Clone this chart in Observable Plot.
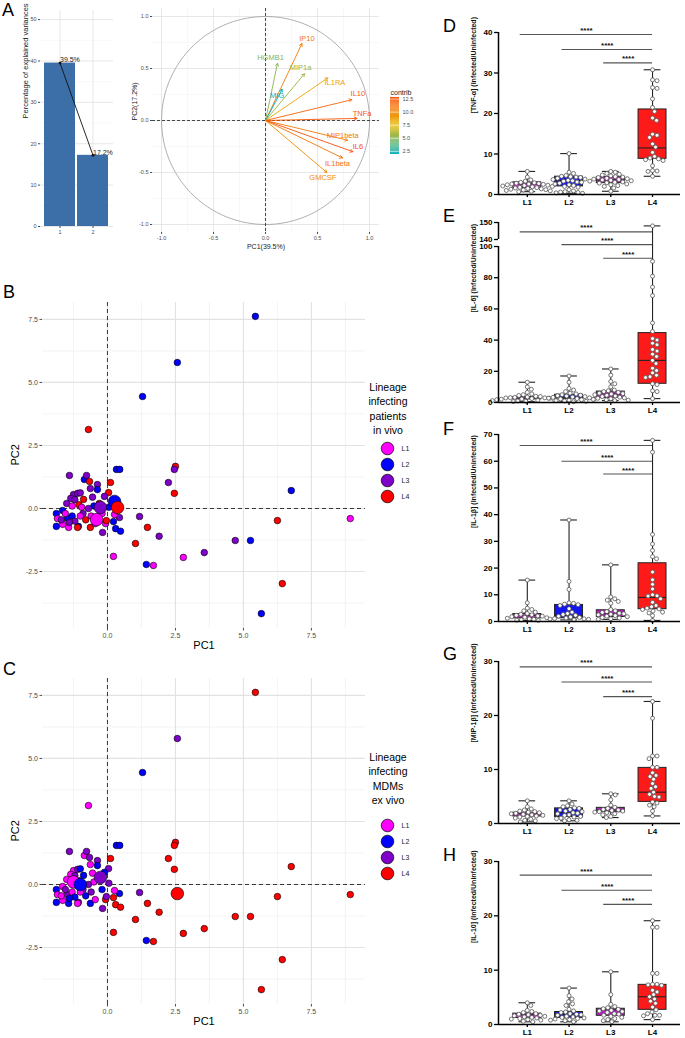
<!DOCTYPE html>
<html><head><meta charset="utf-8">
<script src="https://cdn.jsdelivr.net/npm/d3@7"></script>
<script src="https://cdn.jsdelivr.net/npm/@observablehq/plot@0.6"></script>
<style>
body{margin:0;background:#fff;}
#fig{position:relative;width:685px;height:1038px;overflow:hidden;font-family:"Liberation Sans",Arial,sans-serif;background:#fff;}
</style></head><body><div id="fig"></div>
<script>
// ---------------- DATA ----------------
// Panel A (scree)
const pcs = ["1","2"];
const pcVar = [39.5, 17.2];
// Panel A (variables)
const varNames = ["IP10","HGMB1","MIP1a","MIG","IL1RA","IL10","TNFa","MIP1beta","IL6","IL1beta","GMCSF"];
const varPC1 = [0.35,0.115,0.375,0.16,0.60,0.83,0.88,0.79,0.84,0.74,0.59];
const varPC2 = [0.74,0.55,0.45,0.30,0.41,0.20,0.02,-0.19,-0.30,-0.36,-0.50];
const varContrib = [10.7,5.1,5.5,1.9,8.5,11.7,12.4,10.6,12.8,10.9,9.6];
const contribTicks = [2.5,5,7.5,10,12.5];
const circTicks = [-1,-0.5,0,0.5,1];

// Panels B / C (individuals)
const lineages = ["L1","L2","L3","L4"];
const indPC1 = [5.44,2.57,1.29,-0.70,0.33,0.45,2.50,2.46,2.24,2.46,6.76,6.25,8.93,4.70,5.26,1.18,1.47,1.90,0.30,0.48,-0.18,0.22,1.03,1.43,1.69,2.79,3.56,6.43,5.66,
  -1.40,-0.85,-0.77,-0.66,-0.37,-0.37,-0.63,0.11,0.04,-0.11,-1.25,-1.10,-1.00,-1.35,-1.20,-0.88,-1.50,-1.30,-1.05,-0.95,-1.88,-1.65,-1.88,-1.84,-1.47,-1.65,-1.43,-1.07,-1.10,-0.63,-0.07,-0.04,0.44,0.22,0.26,-1.55,-1.30,-1.20,-0.90,-0.80,-0.60,-0.50,-0.30,-0.20,-1.00,-0.70,-1.40,-0.45,0.05,-1.70,-0.55];
const indPC2 = [7.62,5.79,4.44,3.13,1.55,1.55,1.67,1.55,1.03,0.60,0.71,-0.48,-0.40,-1.27,-1.27,-0.32,-0.75,-1.10,-0.80,-0.90,-0.95,-1.90,-1.39,-2.22,-2.26,-1.94,-1.75,-2.98,-4.17,
  1.31,1.15,1.31,1.07,0.95,0.75,0.79,1.03,0.63,0.48,0.55,0.60,0.62,0.40,0.35,0.36,0.20,0.10,0.15,0.05,-0.20,-0.08,-0.71,-0.40,-0.40,-0.63,-0.75,-0.71,-0.75,-0.75,-0.60,-0.48,-0.36,-0.52,-0.24,-0.20,-0.30,-0.50,-0.20,-0.45,-0.30,0.10,0.20,-0.20,-0.30,0.00,-0.55,-0.60,0.05,-0.45,0.45];
const linVivo = ["L2","L2","L2","L4","L2","L2","L4","L3","L3","L4","L2","L4","L1","L3","L2","L3","L4","L3","L2","L2","L3","L1","L4","L2","L1","L1","L3","L4","L2",
  "L3","L2","L3","L4","L3","L2","L3","L4","L4","L3","L3","L3","L3","L3","L3","L4","L3","L1","L4","L1","L2","L2","L2","L1","L2","L1","L1","L2","L4","L4","L1","L4","L3","L2","L1","L1","L2","L3","L3","L4","L1","L2","L4","L1","L1","L3","L3","L1","L2","L3","L3"];
const linVitro = ["L4","L3","L2","L1","L2","L2","L4","L4","L4","L4","L4","L4","L4","L4","L4","L3","L4","L4","L4","L4","L3","L4","L4","L2","L4","L4","L4","L4","L4",
  "L3","L1","L3","L3","L3","L2","L1","L4","L3","L2","L1","L3","L2","L1","L3","L2","L1","L2","L3","L1","L2","L1","L2","L1","L3","L1","L2","L3","L1","L2","L4","L3","L2","L4","L1","L3","L1","L2","L3","L2","L3","L1","L3","L2","L1","L3","L2","L1","L3","L1","L1"];
const centVivo = [[-0.40,-0.44],[0.26,0.28],[-0.26,0.04],[0.37,0.04]];
const centVitro = [[-1.25,0.10],[-1.00,0.00],[-0.26,0.28],[2.57,-0.36]];
const scatXTicks = [0,2.5,5,7.5];
const scatYTicks = [-2.5,0,2.5,5,7.5];

// Panels D-H (box plots): rows = L1..L4, [min, q1, median, q3, max]
const sigPairs = [[1,4],[2,4],[3,4]];
const sigText = "****";

const tnfL1 = [5.7,4.3,3.6,3.3,3.0,2.9,2.8,2.7,2.6,2.6,2.5,2.4,2.3,2.2,2.1,2.0,1.9,1.8,1.7,1.6,1.5,1.4,1.3,1.2,1.1,1.0,0.9,0.8,0.7];
const tnfL2 = [10.1,5.5,5.2,4.7,4.5,4.4,4.3,4.2,4.0,3.8,3.7,3.5,3.4,3.3,3.1,3.0,2.8,2.6,2.4,2.2,2.0,1.8,1.2,0.9,0.7,0.6,0.5,0.4,0.3];
const tnfL3 = [5.7,5.5,5.2,5.0,4.8,4.6,4.4,4.3,4.2,4.0,3.9,3.8,3.7,3.6,3.5,3.4,3.3,3.1,3.0,2.9,2.8,2.6,2.4,2.2,2.0,1.6,0.8];
const tnfL4 = [30.8,28.3,28.1,26.4,26.2,23.6,21.5,20.5,18.9,18.3,14.9,14.6,14.1,12.5,11.7,10.4,9.4,9.0,8.8,8.6,8.4,7.1,5.9,5.8,5.7,4.5];
const tnfBox = [[0.7,1.6,2.6,3.0,5.7],[0.3,2.0,3.4,4.4,10.1],[0.8,2.8,3.6,4.3,5.7],[4.5,8.8,11.5,21.0,30.8]];
const tnfSig = [39.5,35.8,32.5];
const tnfTicks = [0,10,20,30,40];

const il6L1 = [13,10,8.5,6.5,5.5,5,4.5,4,3.8,3.5,3.3,3.1,3,2.9,2.7,2.5,2.3,2.1,2,1.8,1.6,1.4,1.2,1,0.8,0.6];
const il6L2 = [17,13,9,8,7,6,5.5,5,4.7,4.4,4.1,3.8,3.5,3.3,3,2.8,2.5,2.3,2,1.8,1.5,1.2,1,0.8,0.5];
const il6L3 = [21.5,17.5,13.5,12,10,8,7.5,7,6.5,6,5.7,5.4,5,4.6,4.2,3.8,3.4,3,2.7,2.4,2,1.7,1.5,1.2];
const il6L4 = [148,90.5,81,74,68.5,51,45.5,41,40,38,37,34,33,31,29.5,27,25,22,20.5,19,17.5,16.5,16,12,11.5,7.5,7,2.5];
const il6Box = [[0.5,2,3,3.5,13],[0.5,2.3,3.3,5,17],[1.2,3,5.5,7,21.5],[2.5,12,27,44.5,148]];
const il6Sig = [144.5,111,92.5];
const il6Ticks = [0,20,40,60,80,100,140,150];

const il1bL1 = [15.5,7,5,4.5,4,3.5,3,2.7,2.5,2.3,2.1,2,1.8,1.6,1.4,1.2,1,0.8,0.6,0.5,0.4];
const il1bL2 = [38,15,12,7,6.8,6.5,6.3,6,4.8,3.5,3,2.6,2.3,2,1.7,1.5,1.3,1.1,1,0.9,0.8,0.6];
const il1bL3 = [21.2,9.2,8.5,8,7.5,6.8,4.5,4,3.7,3.4,3.1,2.9,2.7,2.5,2.2,2,1.8,1.5,1.3,1,0.8];
const il1bL4 = [67.8,63.4,32.6,29,26.6,24.3,23.5,18.5,15.6,13.9,12.2,10,9.6,9.5,8.5,7.2,6,5.5,5,4.7,4.5,3.9,3.5,3.2,2.2,0.4];
const il1bBox = [[0.4,1.2,2.2,2.8,15.5],[0.6,1.2,2.2,6.2,38],[0.8,1.7,2.9,4.2,21.2],[0.4,4.6,9,21.8,67.8]];
const il1bSig = [65.9,60,55.2];
const il1bTicks = [0,10,20,30,40,50,60,70];

const mipL1 = [4.2,3.1,2.7,2.5,2.3,2.2,2.1,2.0,1.9,1.8,1.7,1.6,1.5,1.4,1.3,1.2,1.0,0.8,0.6,0.5,0.3];
const mipL2 = [4.2,3.6,3.3,3.1,2.9,2.8,2.6,2.5,2.3,2.2,2.0,1.9,1.8,1.6,1.5,1.3,1.2,1.0,0.9,0.7,0.6,0.5];
const mipL3 = [5.5,5.3,4.4,3.4,3.0,2.8,2.6,2.5,2.4,2.3,2.2,2.1,2.0,1.8,1.6,1.3,1.1];
const mipL4 = [22.6,19.5,12.5,12.5,12,10.4,10.4,9.4,8.9,8.7,8.2,7.4,6.8,6.5,5.8,5.4,5.0,4.9,4.0,3.8,3.4,3.1,2.3,1.4];
const mipBox = [[0.3,1.3,1.8,2.0,4.2],[0.5,1.2,2.0,2.8,4.2],[1.1,2.1,2.5,2.9,5.5],[1.4,4.0,5.8,10.3,22.6]];
const mipSig = [29,26.2,23.5];
const mipTicks = [0,10,20,30];

const il10L1 = [4.0,3.5,2.6,2.4,2.2,2.0,1.9,1.8,1.7,1.6,1.5,1.4,1.3,1.2,1.1,1.0,0.9,0.8,0.6,0.5];
const il10L2 = [6.7,5.3,4.7,4.2,3.8,3.5,2.8,2.5,2.3,2.2,2.0,1.9,1.8,1.7,1.5,1.4,1.3,1.2,1.1,1.0,0.9,0.8,0.7,0.5];
const il10L3 = [9.7,5.5,3.7,3.3,3.1,2.9,2.8,2.6,2.5,2.4,2.2,2.0,1.9,1.7,1.5,1.3,1.1,0.9,0.7,0.5];
const il10L4 = [19.1,17.9,17.9,9.4,9.4,7.4,7.4,7.3,7.2,6.3,6.0,5.5,5.1,4.7,4.3,3.9,3.2,2.7,2.3,2.0,1.7,1.7,1.6,0.9];
const il10Box = [[0.5,1.2,1.8,2.0,4.0],[0.5,1.2,1.8,2.3,6.7],[0.5,1.6,2.7,2.9,9.7],[0.9,2.7,5.1,7.3,19.1]];
const il10Sig = [27.5,24.7,22.1];
const il10Ticks = [0,10,20,30];

// ---------------- STYLE / LAYOUT ----------------
const linColors = ["#FF00FF","#0000FF","#7F00C8","#FF0000"];
const boxColors = ["#E030E0","#1515F0","#C01CCB","#FF1A1A"];
const fig = document.getElementById("fig");
const baseStyle = {fontFamily:'"Liberation Sans", Arial, sans-serif', background:"transparent", overflow:"visible"};
function place(el, left, top){ el.style.position="absolute"; el.style.left=left+"px"; el.style.top=top+"px"; fig.appendChild(el); return el; }
function html(text, left, top, css){ const d=document.createElement("div"); d.textContent=text; d.style.cssText=`position:absolute;left:${left}px;top:${top}px;${css||""}`; fig.appendChild(d); return d; }
const fmt1 = d => d.toFixed(1);

// panel letters
[["A",2,1],["B",3,283],["C",3,660],["D",443,17],["E",443,207],["F",443,420],["G",443,645],["H",443,846]]
  .forEach(([t,x,y]) => html(t, x, y, "font-size:18px;line-height:18px;color:#000;"));

// ---------- Panel A: scree ----------
const barData = pcs.map((p,i)=>({pc:p, v:pcVar[i]}));
place(Plot.plot({
  width:120, height:245, marginLeft:40, marginRight:7, marginTop:10, marginBottom:19,
  style:{...baseStyle, fontSize:"5.5px", color:"#4d4d4d"},
  x:{type:"band", domain:pcs, paddingInner:0.05, paddingOuter:0.1},
  y:{domain:[0,52.2]},
  marks:[
    Plot.ruleY(d3.range(5,50,10), {stroke:"#f0f0f0", strokeWidth:0.5}),
    Plot.ruleY(d3.range(0,51,10), {stroke:"#e4e4e4", strokeWidth:0.9}),
    Plot.ruleX(pcs, {x:d=>d, stroke:"#e4e4e4", strokeWidth:0.9}),
    Plot.barY(barData, {x:"pc", y:"v", fill:"#3c6ea8"}),
    Plot.line(barData, {x:"pc", y:"v", stroke:"#111", strokeWidth:0.9}),
    Plot.dot(barData, {x:"pc", y:"v", r:1.4, fill:"#111"}),
    Plot.text(barData, {x:"pc", y:"v", text:d=>d.v.toFixed(1)+"%", textAnchor:"start", dy:-3, fontSize:7, fill:"#222"}),
    Plot.axisY({ticks:d3.range(0,51,10), tickSize:2, tickPadding:2, label:null}),
    Plot.axisX({tickSize:2, tickPadding:2, label:null}),
    Plot.text(["Percentage of explained variances"], {text:d=>d, frameAnchor:"left", rotate:-90, dx:-15, fontSize:7.5, fill:"#222"})
  ]
}), 0, 0);

// ---------- Panel A: correlation circle ----------
const vars = varNames.map((n,i)=>({name:n, pc1:varPC1[i], pc2:varPC2[i], contrib:varContrib[i]}));
const cExt = d3.extent(varContrib);
const contribScale = {type:"linear", domain:[cExt[0], (cExt[0]+cExt[1])/2, cExt[1]], range:["#00AFBB","#E7B800","#FC4E07"]};
const labelNudge = {IP10:[5,-5], HGMB1:[-7,-6], MIP1a:[-4,-6], MIG:[-5,6], IL1RA:[7,5], IL10:[6,-6], TNFa:[5,-5], MIP1beta:[-5,-5], IL6:[5,-5], IL1beta:[-5,6], GMCSF:[-4,5]};
const cpx = 104;
const circle = d3.range(0,361,2).map(a=>({x:Math.cos(a*Math.PI/180), y:Math.sin(a*Math.PI/180)}));
place(Plot.plot({
  width:255, height:250, marginLeft:22, marginRight:6, marginTop:8, marginBottom:18,
  style:{...baseStyle, fontSize:"5.5px", color:"#4d4d4d"},
  x:{domain:[-1.087,1.096]}, y:{domain:[-1.077,1.077]},
  color:contribScale,
  marks:[
    Plot.ruleX([-0.75,-0.25,0.25,0.75], {stroke:"#f0f0f0", strokeWidth:0.5}),
    Plot.ruleY([-0.75,-0.25,0.25,0.75], {stroke:"#f0f0f0", strokeWidth:0.5}),
    Plot.ruleX(circTicks, {stroke:"#e4e4e4", strokeWidth:0.9}),
    Plot.ruleY(circTicks, {stroke:"#e4e4e4", strokeWidth:0.9}),
    Plot.line(circle, {x:"x", y:"y", stroke:"#9a9a9a", strokeWidth:0.8}),
    Plot.ruleX([0], {stroke:"#333", strokeDasharray:"3,2", strokeWidth:0.9}),
    Plot.ruleY([0], {stroke:"#333", strokeDasharray:"3,2", strokeWidth:0.9}),
    Plot.arrow(vars, {x1:()=>0, y1:()=>0, x2:"pc1", y2:"pc2", stroke:"contrib", strokeWidth:0.9, headLength:5}),
    Plot.text(vars, {x:d=>d.pc1+labelNudge[d.name][0]/cpx, y:d=>d.pc2-labelNudge[d.name][1]/cpx, text:"name", fill:"contrib", fontSize:7.5}),
    Plot.axisX({ticks:circTicks, tickFormat:fmt1, tickSize:2, tickPadding:1.5, label:null}),
    Plot.axisY({ticks:circTicks, tickFormat:fmt1, tickSize:2, tickPadding:2, label:null}),
    Plot.text(["PC1(39.5%)"], {text:d=>d, frameAnchor:"bottom", dy:16, fontSize:7, fill:"#222"}),
    Plot.text(["PC2(17.2%)"], {text:d=>d, frameAnchor:"left", rotate:-90, dx:-18, fontSize:7, fill:"#222"})
  ]
}), 130, 0);

// contrib colour bar
const nSteps = 60;
const stepV = (cExt[1]-cExt[0])/nSteps;
const ramp = d3.range(nSteps).map(i=>({y1:cExt[0]+i*stepV, y2:cExt[0]+(i+1)*stepV, v:cExt[0]+(i+0.5)*stepV}));
place(Plot.plot({
  width:45, height:75, marginLeft:7, marginRight:29, marginTop:13, marginBottom:5,
  style:{...baseStyle, fontSize:"5.5px", color:"#4d4d4d"},
  y:{domain:cExt}, color:contribScale,
  marks:[
    Plot.rect(ramp, {y1:"y1", y2:"y2", fill:"v"}),
    Plot.tickY(contribTicks, {y:d=>d, stroke:"white", strokeWidth:0.6}),
    Plot.axisY({anchor:"right", ticks:contribTicks, tickFormat:fmt1, tickSize:0, tickPadding:3, label:null}),
    Plot.text(["contrib"], {text:d=>d, frameAnchor:"top-left", dy:-7, textAnchor:"start", fontSize:7, fill:"#222"})
  ]
}), 383, 84);

// ---------- Panels B / C ----------
function scatter(lin, cent, top){
  const inds = indPC1.map((x,i)=>({x, y:indPC2[i], lin:lin[i]}));
  const cents = lineages.map((l,i)=>({x:cent[i][0], y:cent[i][1], lin:l}));
  place(Plot.plot({
    width:370, height:365, marginLeft:42, marginRight:5, marginTop:12, marginBottom:27,
    style:{...baseStyle, fontSize:"7px", color:"#4d4d4d"},
    x:{domain:[-2.39,9.49]}, y:{domain:[-4.76,8.17]},
    color:{domain:lineages, range:linColors},
    marks:[
      Plot.ruleX(d3.range(-1.25,9.5,2.5), {stroke:"#ececec", strokeWidth:0.6}),
      Plot.ruleY(d3.range(-3.75,8,2.5), {stroke:"#ececec", strokeWidth:0.6}),
      Plot.ruleX(scatXTicks, {stroke:"#e2e2e2", strokeWidth:1.1}),
      Plot.ruleY(scatYTicks, {stroke:"#e2e2e2", strokeWidth:1.1}),
      Plot.ruleX([0], {stroke:"#222", strokeDasharray:"4,3", strokeWidth:0.9}),
      Plot.ruleY([0], {stroke:"#222", strokeDasharray:"4,3", strokeWidth:0.9}),
      Plot.dot(inds, {x:"x", y:"y", fill:"lin", stroke:"#000", strokeWidth:0.6, r:3.3}),
      Plot.dot(cents, {x:"x", y:"y", fill:"lin", stroke:"#000", strokeWidth:0.6, r:6.3}),
      Plot.axisX({ticks:scatXTicks, tickFormat:fmt1, tickSize:2.5, tickPadding:2, label:null}),
      Plot.axisY({ticks:scatYTicks, tickFormat:fmt1, tickSize:2.5, tickPadding:2, label:null}),
      Plot.text(["PC1"], {text:d=>d, frameAnchor:"bottom", dy:20, fontSize:11, fill:"#000"}),
      Plot.text(["PC2"], {text:d=>d, frameAnchor:"left", rotate:-90, dx:-27, fontSize:11, fill:"#000"})
    ]
  }), 0, top);
}
function lineageLegend(titleLines, titleTop, top){
  const t = html("", 348, titleTop, "width:80px;text-align:center;font-size:10.5px;line-height:14.3px;color:#000;");
  t.innerHTML = titleLines.join("<br>");
  place(Plot.plot({
    width:50, height:64, marginLeft:12, marginRight:0, marginTop:8, marginBottom:8,
    style:{...baseStyle, fontSize:"7px"},
    y:{type:"point", domain:lineages, padding:0, axis:null},
    color:{domain:lineages, range:linColors},
    marks:[
      Plot.dot(lineages, {y:d=>d, fill:d=>d, r:6.3, stroke:"#000", strokeWidth:0.7, frameAnchor:"left"}),
      Plot.text(lineages, {y:d=>d, text:d=>d, frameAnchor:"left", dx:14, textAnchor:"start", fontSize:7, fill:"#222"})
    ]
  }), 375, top);
}
scatter(linVivo, centVivo, 290);
lineageLegend(["Lineage","infecting","patients","in vivo"], 380, 440);
scatter(linVitro, centVitro, 666);
lineageLegend(["Lineage","infecting","MDMs","ex vivo"], 750, 817);

// ---------- Panels D-H ----------
function swarm(py, r){
  const n = py.length, d = 2*r + 0.4;
  const order = d3.range(n).sort((a,b)=>py[a]-py[b]);
  const placed = [], off = new Array(n);
  for (const i of order){
    let best = 0;
    for (let k=0;k<400;k++){
      const c = k===0 ? 0 : (k%2 ? 1 : -1)*Math.ceil(k/2)*0.5;
      if (placed.every(p => (p.x-c)**2 + (p.y-py[i])**2 >= d*d)) { best = c; break; }
    }
    off[i] = best; placed.push({x:best, y:py[i]});
  }
  return off;
}
function boxPanel({title, pts, box, sig, ticks, segs, plotTop, plotH, tf}){
  const T = tf || (v=>v);
  const W=225, ML=38, MR=5, MT=16, MB=16;
  const xDom=[0.31,4.67];
  const pxX=(W-ML-MR)/(xDom[1]-xDom[0]);
  const yTop = T(ticks[ticks.length-1]);
  const pxY = plotH / yTop;
  const dots=[];
  pts.forEach((arr,g)=>{
    const off = swarm(arr.map(v=>-T(v)*pxY), 2);
    arr.forEach((v,i)=>dots.push({x:g+1+off[i]/pxX, y:T(v)}));
  });
  const rows = box.map((b,g)=>({x:g+1, min:T(b[0]), q1:T(b[1]), med:T(b[2]), q3:T(b[3]), max:T(b[4]), lin:lineages[g]}));
  const sigRows = sigPairs.map((p,k)=>({x1:p[0]-0.17, x2:p[1], y:T(sig[k])}));
  const tickPos = ticks.map(T);
  const tickLab = new Map(tickPos.map((p,i)=>[p, String(ticks[i])]));
  const segRows = segs.map(s=>({y1:T(s[0]), y2:T(s[1])}));
  const bw = 0.335, cw = 0.2;
  place(Plot.plot({
    width:W, height:MT+plotH+MB, marginLeft:ML, marginRight:MR, marginTop:MT, marginBottom:MB,
    style:{...baseStyle, fontSize:"8px", fontWeight:"bold", color:"#000"},
    x:{domain:xDom}, y:{domain:[0,yTop]},
    color:{domain:lineages, range:boxColors},
    marks:[
      Plot.ruleX(rows, {x:"x", y1:"min", y2:"q1", stroke:"#222", strokeWidth:1.1}),
      Plot.ruleX(rows, {x:"x", y1:"q3", y2:"max", stroke:"#222", strokeWidth:1.1}),
      Plot.ruleY(rows, {y:"min", x1:d=>d.x-cw, x2:d=>d.x+cw, stroke:"#222", strokeWidth:1.1}),
      Plot.ruleY(rows, {y:"max", x1:d=>d.x-cw, x2:d=>d.x+cw, stroke:"#222", strokeWidth:1.1}),
      Plot.rect(rows, {x1:d=>d.x-bw, x2:d=>d.x+bw, y1:"q1", y2:"q3", fill:"lin", stroke:"#222", strokeWidth:1}),
      Plot.ruleY(rows, {y:"med", x1:d=>d.x-bw, x2:d=>d.x+bw, stroke:"#222", strokeWidth:1.1}),
      Plot.dot(dots, {x:"x", y:"y", r:2, fill:"white", stroke:"#555", strokeWidth:0.8}),
      Plot.ruleY(sigRows, {y:"y", x1:"x1", x2:"x2", stroke:"#555", strokeWidth:1.1}),
      Plot.text(sigRows, {x:d=>(d.x1+d.x2)/2, y:"y", text:()=>sigText, dy:-4, fontSize:8, fontWeight:"bold", fill:"#111"}),
      Plot.ruleX(segRows, {x:()=>xDom[0], y1:"y1", y2:"y2", stroke:"#000", strokeWidth:1.5}),
      Plot.ruleY([0], {stroke:"#000", strokeWidth:1.5}),
      Plot.axisY({ticks:tickPos, tickFormat:d=>tickLab.get(d), tickSize:4, tickPadding:2, label:null, strokeWidth:1.3}),
      Plot.axisX({ticks:[1,2,3,4], tickFormat:d=>lineages[d-1], tickSize:3, tickPadding:2, label:null, strokeWidth:1.3}),
      Plot.text([title], {text:d=>d, frameAnchor:"left", rotate:-90, dx:-25, fontSize:7, fontWeight:"bold", fill:"#111"})
    ]
  }), 460, plotTop-MT);
}
const il6Break = v => v<=100 ? v : (v<=140 ? 100+(v-100)*0.1125 : 104.5+(v-140)*1.09);
boxPanel({title:"[TNF-α] (Infected/Uninfected)", pts:[tnfL1,tnfL2,tnfL3,tnfL4], box:tnfBox, sig:tnfSig, ticks:tnfTicks, segs:[[0,40]], plotTop:32, plotH:162});
boxPanel({title:"[IL-6] (Infected/Uninfected)", pts:[il6L1,il6L2,il6L3,il6L4], box:il6Box, sig:il6Sig, ticks:il6Ticks, segs:[[0,100],[140,150]], plotTop:222, plotH:180, tf:il6Break});
boxPanel({title:"[IL-1β] (Infected/Uninfected)", pts:[il1bL1,il1bL2,il1bL3,il1bL4], box:il1bBox, sig:il1bSig, ticks:il1bTicks, segs:[[0,70]], plotTop:434, plotH:187});
boxPanel({title:"[MIP-1β] (Infected/Uninfected)", pts:[mipL1,mipL2,mipL3,mipL4], box:mipBox, sig:mipSig, ticks:mipTicks, segs:[[0,30]], plotTop:661, plotH:162});
boxPanel({title:"[IL-10] (Infected/Uninfected)", pts:[il10L1,il10L2,il10L3,il10L4], box:il10Box, sig:il10Sig, ticks:il10Ticks, segs:[[0,30]], plotTop:861, plotH:163});
</script></body></html>
